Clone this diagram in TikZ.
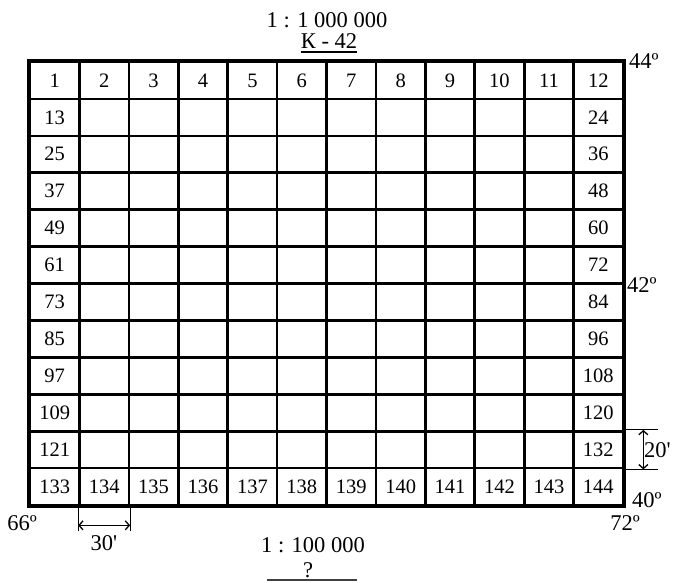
\documentclass[tikz,border=0pt]{standalone}
\usepackage{fontspec}
\setmainfont{Liberation Serif}
\usetikzlibrary{arrows.meta}
\tikzset{
  cell/.style={draw, line width=2.6pt, minimum width=49.42pt, minimum height=36.92pt, inner sep=0pt, font=\fontsize{20.5}{20.5}\selectfont},
  lbl/.style={inner sep=0pt, font=\fontsize{22.5}{22.5}\selectfont},
  dim/.style={line width=1.1pt},
  dimarrow/.style={line width=1.3pt, {Straight Barb[length=4pt,width=9pt]}-{Straight Barb[length=4pt,width=9pt]}},
}
\begin{document}
\begin{tikzpicture}[x=1pt,y=-1pt]
\useasboundingbox (0,0) rectangle (680,582);
\foreach \r in {0,...,11}{\foreach \c in {0,...,11}{
  \pgfmathtruncatemacro\n{\r*12+\c+1}
  \pgfmathtruncatemacro\show{(\r==0)||(\r==11)||(\c==0)||(\c==11)}
  \node[cell] (c\n) at ({30+(\c+0.5)*49.42},{62+(\r+0.5)*36.92}) {\ifnum\show=1 \n\fi};
}}
\draw[line width=3.2pt] (c1.north west) rectangle (c144.south east);
% titles
\node[lbl, anchor=base] (t1) at (327,27) {1 : 1 000 000};
\node[lbl, anchor=base] (t2) at (329,48) {К - 42};
\draw[line width=2pt] ([yshift=-4pt]t2.base west) -- ([yshift=-4pt]t2.base east);
\node[lbl, anchor=base] (b1) at (313,552) {1 : 100 000};
\node[lbl, anchor=base] (b2) at (308,577) {?};
\coordinate (u1) at (267,580);
\coordinate (u2) at (357,580);
\draw[line width=1.2pt, black!75] (u1) -- (u2);
% degree labels
\node[lbl, anchor=base west] (d44) at (629,68) {44º};
\node[lbl, anchor=base west] (d42) at (627,292) {42º};
\node[lbl, anchor=base west] (d40) at (632,507) {40º};
\node[lbl, anchor=base] (d72) at (625,530) {72º};
\node[lbl, anchor=base] (d66) at (22,530) {66º};
% 30' dimension
\coordinate (h1) at ([yshift=-25pt]c134.south west);
\coordinate (h2) at ([yshift=-25pt]c134.south east);
\draw[dim] (c134.south west) -- (h1);
\draw[dim] (c134.south east) -- (h2);
\draw[dimarrow] ([yshift=6pt]h1) -- ([yshift=6pt]h2);
\node[lbl, anchor=base] (m30) at (104,550) {30\textquotesingle};
% 20' dimension
\coordinate (v1) at ([xshift=34pt]c132.north east);
\coordinate (v2) at ([xshift=34pt]c132.south east);
\draw[dim] (c132.north east) -- (v1);
\draw[dim] (c132.south east) -- (v2);
\draw[dimarrow] ([xshift=-15pt]v1) -- ([xshift=-15pt]v2);
\node[lbl, anchor=base west] (m20) at (644,457) {20\textquotesingle};
\end{tikzpicture}
\end{document}
